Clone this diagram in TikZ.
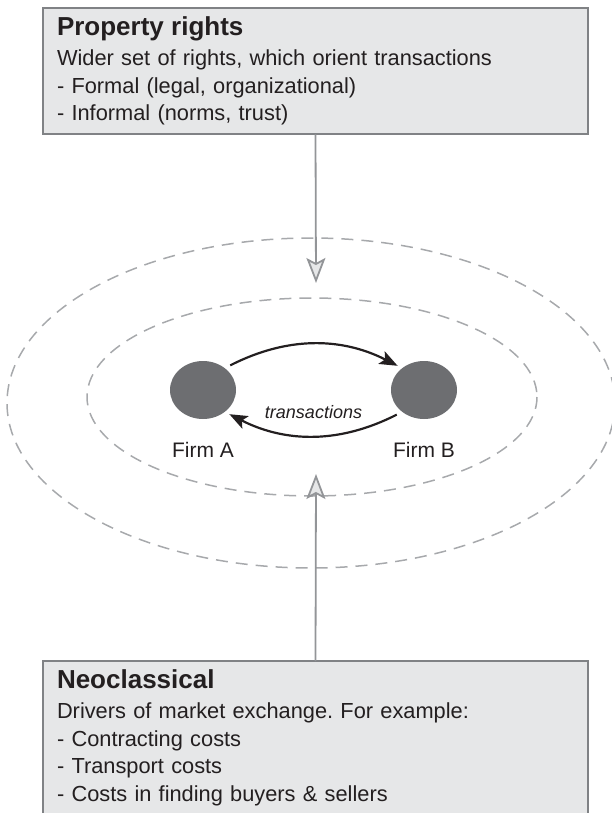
\documentclass[tikz,border=0pt]{standalone}
\usepackage{fontspec}
\setmainfont{Liberation Sans}
\usetikzlibrary{arrows.meta,positioning,shapes.geometric}
\frenchspacing

\definecolor{boxfill}{HTML}{E6E7E8}
\definecolor{boxline}{HTML}{808285}
\definecolor{ringgray}{HTML}{A7A9AC}
\definecolor{firmgray}{HTML}{6D6E71}
\definecolor{feedgray}{HTML}{939598}
\definecolor{inkblack}{HTML}{231F20}

\newcommand{\boxhead}[1]{{\fontsize{26}{30}\selectfont\bfseries #1}}

\begin{document}
\begin{tikzpicture}[x=1pt,y=-1pt,
		infobox/.style={draw=boxline, fill=boxfill, line width=2pt, outer sep=0pt, inner xsep=14pt, inner ysep=9pt, text width=517pt, align=left, anchor=north west, text=inkblack, font=\fontsize{21.8}{27.5}\selectfont},
		ring/.style={draw=ringgray, line width=1.5pt, dash pattern=on 12pt off 8pt},
		firm/.style={ellipse, fill=firmgray, minimum width=66pt, minimum height=58pt, inner sep=0pt},
		firmlabel/.style={text=inkblack, font=\fontsize{21}{25}\selectfont, inner sep=0pt},
		deal/.style={-{Stealth[length=18pt, width=14pt, inset=4pt]}, line width=2.2pt, draw=inkblack, shorten <=6pt, shorten >=5pt},
		feed/.style={-{Stealth[length=25pt, width=19pt, inset=5pt, fill=boxfill]}, draw=feedgray, line width=1.8pt}]
	\useasboundingbox (0,0) rectangle (612,813);

	\draw[ring] (311,403) ellipse [x radius=304, y radius=165];
	\draw[ring] (312,397) ellipse [x radius=225, y radius=99];

	\node[infobox] (rights) at (43,8) {\boxhead{Property rights}\\[2.5pt]
		Wider set of rights, which orient transactions\\
		- Formal (legal, organizational)\\
		- Informal (norms, trust)};
	\node[infobox] (neo) at (43,661) {\boxhead{Neoclassical}\\[2.5pt]
		Drivers of market exchange. For example:\\
		- Contracting costs\\
		- Transport costs\\
		- Costs in finding buyers \& sellers};

	\node[firm] (firmA) at (203,390) {};
	\node[firm] (firmB) at (424,390) {};
	\node[firmlabel, below=23pt of firmA] (labelA) {Firm A};
	\node[firmlabel, below=23pt of firmB] (labelB) {Firm B};

	\coordinate (rtip) at (316,283);
	\coordinate (ntip) at (316,474);

	\draw[deal] (firmA.45) to[bend left=27] (firmB.135);
	\draw[deal] (firmB.225) to[bend left=27] node[above=12pt, text=inkblack, font=\fontsize{18}{22}\selectfont\itshape] (txlabel) {transactions} (firmA.-45);
	\draw[feed] (rights.south) -- (rtip);
	\draw[feed] (neo.north) -- (ntip);
\end{tikzpicture}
\end{document}
